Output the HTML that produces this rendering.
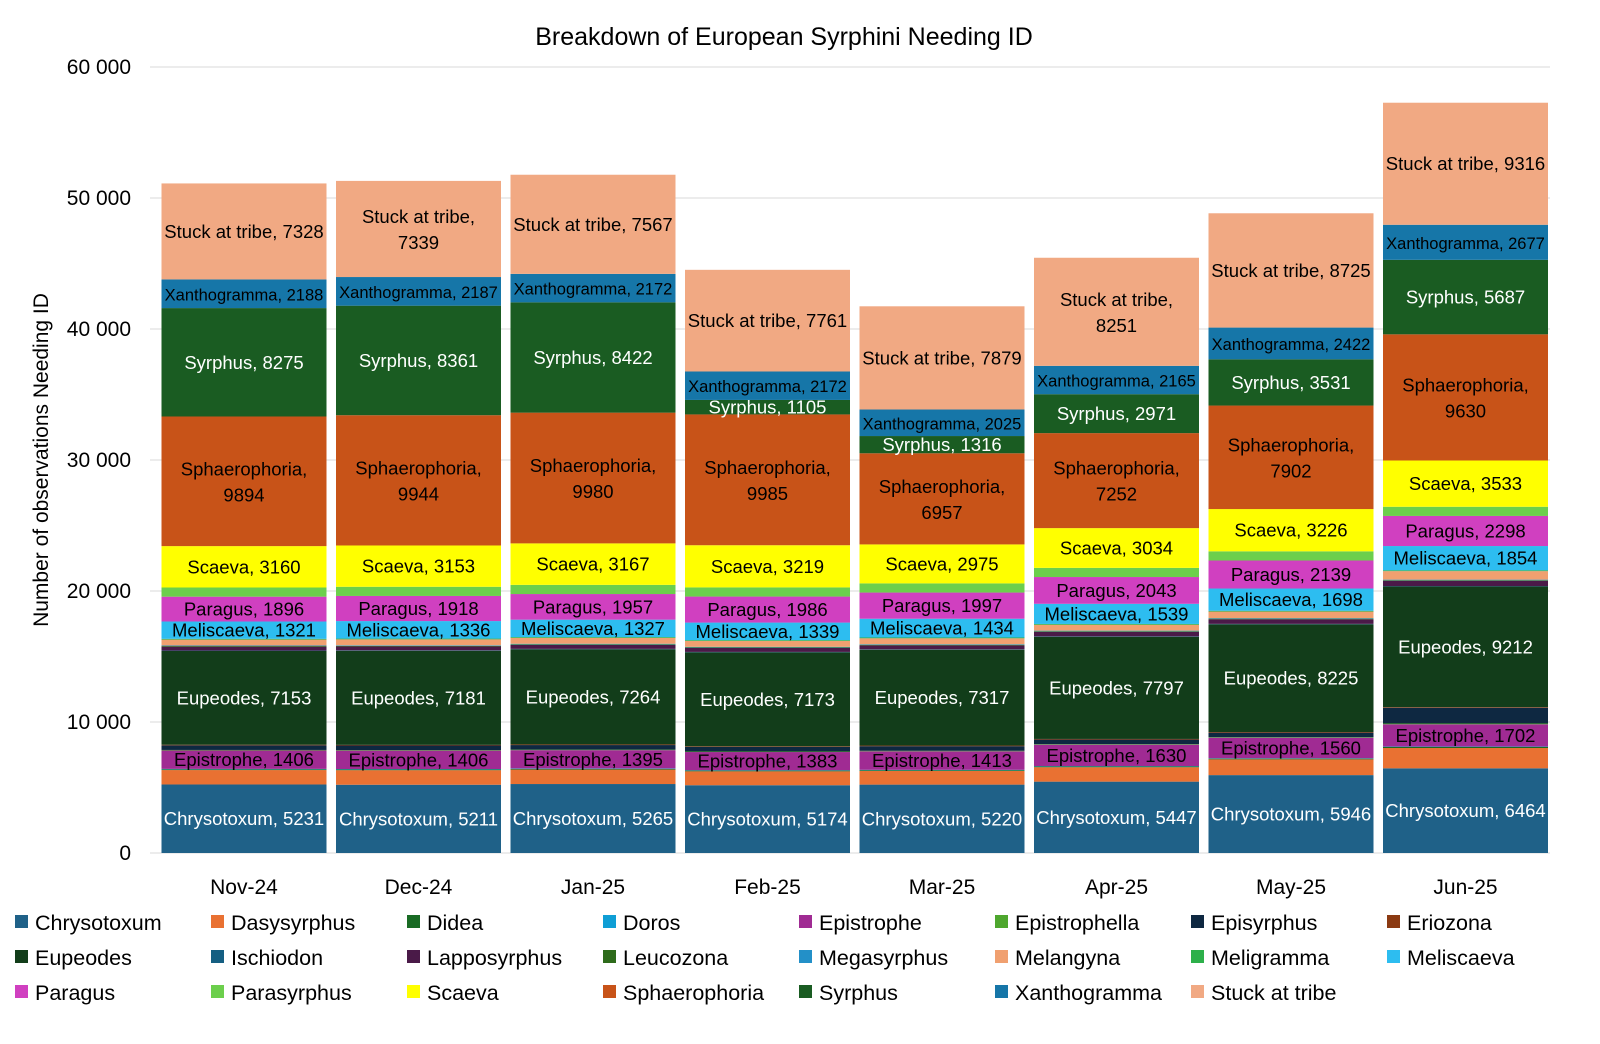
<!DOCTYPE html>
<html><head><meta charset="utf-8"><style>
body{margin:0;background:#fff;}
svg{display:block;font-family:"Liberation Sans",sans-serif;}
</style></head><body>
<svg id="chart" width="1600" height="1044"></svg>
<script>
const categories=["Nov-24","Dec-24","Jan-25","Feb-25","Mar-25","Apr-25","May-25","Jun-25"];
const seriesNames=["Chrysotoxum","Dasysyrphus","Didea","Doros","Epistrophe","Epistrophella","Episyrphus","Eriozona","Eupeodes","Ischiodon","Lapposyrphus","Leucozona","Megasyrphus","Melangyna","Meligramma","Meliscaeva","Paragus","Parasyrphus","Scaeva","Sphaerophoria","Syrphus","Xanthogramma","Stuck at tribe"];
const chrysotoxum=[5231,5211,5265,5174,5220,5447,5946,6464];
const dasysyrphus=[1100,1110,1100,1060,1040,1100,1200,1550];
const didea=[60,60,60,60,60,60,60,80];
const doros=[30,30,30,30,30,30,30,30];
const epistrophe=[1406,1406,1395,1383,1413,1630,1560,1702];
const epistrophella=[40,40,40,40,40,40,40,60];
const episyrphus=[350,350,350,350,350,350,350,1200];
const eriozona=[50,50,50,50,50,50,50,50];
const eupeodes=[7153,7181,7264,7173,7317,7797,8225,9212];
const ischiodon=[30,30,30,30,30,30,30,30];
const lapposyrphus=[300,300,300,300,300,350,350,400];
const leucozona=[50,50,50,50,50,50,50,50];
const megasyrphus=[40,40,40,40,40,40,40,40];
const melangyna=[450,450,450,450,450,450,500,650];
const meligramma=[60,60,60,60,60,60,60,60];
const meliscaeva=[1321,1336,1327,1339,1434,1539,1698,1854];
const paragus=[1896,1918,1957,1986,1997,2043,2139,2298];
const parasyrphus=[700,700,700,700,700,700,700,700];
const scaeva=[3160,3153,3167,3219,2975,3034,3226,3533];
const sphaerophoria=[9894,9944,9980,9985,6957,7252,7902,9630];
const syrphus=[8275,8361,8422,1105,1316,2971,3531,5687];
const xanthogramma=[2188,2187,2172,2172,2025,2165,2422,2677];
const stuckAtTribe=[7328,7339,7567,7761,7879,8251,8725,9316];
const yTicks=[0,10000,20000,30000,40000,50000,60000];
const yTickLabels=["0","10 000","20 000","30 000","40 000","50 000","60 000"];

const series=[chrysotoxum,dasysyrphus,didea,doros,epistrophe,epistrophella,episyrphus,eriozona,eupeodes,ischiodon,lapposyrphus,leucozona,megasyrphus,melangyna,meligramma,meliscaeva,paragus,parasyrphus,scaeva,sphaerophoria,syrphus,xanthogramma,stuckAtTribe];
const colors=["#1f6188","#e97132","#196b24","#0f9ed5","#a02b93","#4ea72e","#0e2841","#8b3a12","#123d1a","#155f82","#4a1a48","#2e6b1b","#2390c8","#f0a070","#2db04a","#2dbdf0","#d040c0","#6ccf4c","#ffff00","#c85318","#1a5c22","#1676a8","#f1a983"];
const labelled={0:"#fff",4:"#000",8:"#fff",15:"#000",16:"#000",18:"#000",19:"#000",20:"#fff",21:"#000",22:"#000"};
const svg=document.getElementById('chart');
const NS="http://www.w3.org/2000/svg";
const y0=853,yTop=67,yMax=60000;
const yScale=v=>y0-(v/yMax)*(y0-yTop);
const xCenter=i=>244+i*174.5;
const barW=165;
function mk(t,a,txt){const e=document.createElementNS(NS,t);for(const k in a)e.setAttribute(k,a[k]);if(txt!==undefined)e.textContent=txt;svg.appendChild(e);return e;}

let t=mk('text',{x:784,y:45,'text-anchor':'middle','font-size':25,fill:'#000'},'Breakdown of European Syrphini Needing ID');


t=mk('text',{x:0,y:0,'text-anchor':'middle','font-size':21,fill:'#000',transform:'translate(48,460) rotate(-90)'},'Number of observations Needing ID');



yTicks.forEach((v,i)=>{
  const y=yScale(v);
  if(v>0){const g=mk('line',{x1:150,x2:1550,y1:y,y2:y,stroke:'#d9d9d9','stroke-width':1});
  
  }
  const l=mk('text',{x:131,y:y+7,'text-anchor':'end','font-size':21,fill:'#000'},yTickLabels[i]);
  
  
});
const ax=mk('line',{x1:150,x2:1550,y1:y0,y2:y0,stroke:'#d9d9d9','stroke-width':1});



categories.forEach((c,i)=>{
  const cx=xCenter(i);let cum=0;
  series.forEach((s,k)=>{
    const v=s[i];const yb=yScale(cum),yt=yScale(cum+v);cum+=v;
    const r=mk('rect',{x:cx-barW/2,y:yt,width:barW,height:Math.max(0,yb-yt),fill:colors[k]});
    
    
    if(labelled[k]!==undefined){
      const txt=seriesNames[k]+', '+v;const mid=(yb+yt)/2;
      const twoLine=(k==19)||(k==22&&(i==1||i==5));
      if(twoLine){
        const a=mk('text',{x:cx,y:mid-6,'text-anchor':'middle','font-size':18.5,fill:labelled[k]},seriesNames[k]+',');
        
        
        const b=mk('text',{x:cx,y:mid+20,'text-anchor':'middle','font-size':18.5,fill:labelled[k]},String(v));
        
        
      } else {
        const fs=(k==21)?16.5:18.5;
        const a=mk('text',{x:cx,y:mid+6.5,'text-anchor':'middle','font-size':fs,fill:labelled[k]},txt);
        
        
      }
    }
  });
  const xl=mk('text',{x:cx,y:894,'text-anchor':'middle','font-size':21,fill:'#000'},c);
  
  
});

seriesNames.forEach((n,k)=>{
  const col=k%8,row=Math.floor(k/8);
  const x=15+col*196,y=922+row*35;
  const r=mk('rect',{x:x,y:y-7,width:13,height:13,fill:colors[k]});
  
  
  const l=mk('text',{x:x+20,y:y+8,'font-size':21.5,fill:'#000'},n);
  
  
});
</script>
</body></html>
